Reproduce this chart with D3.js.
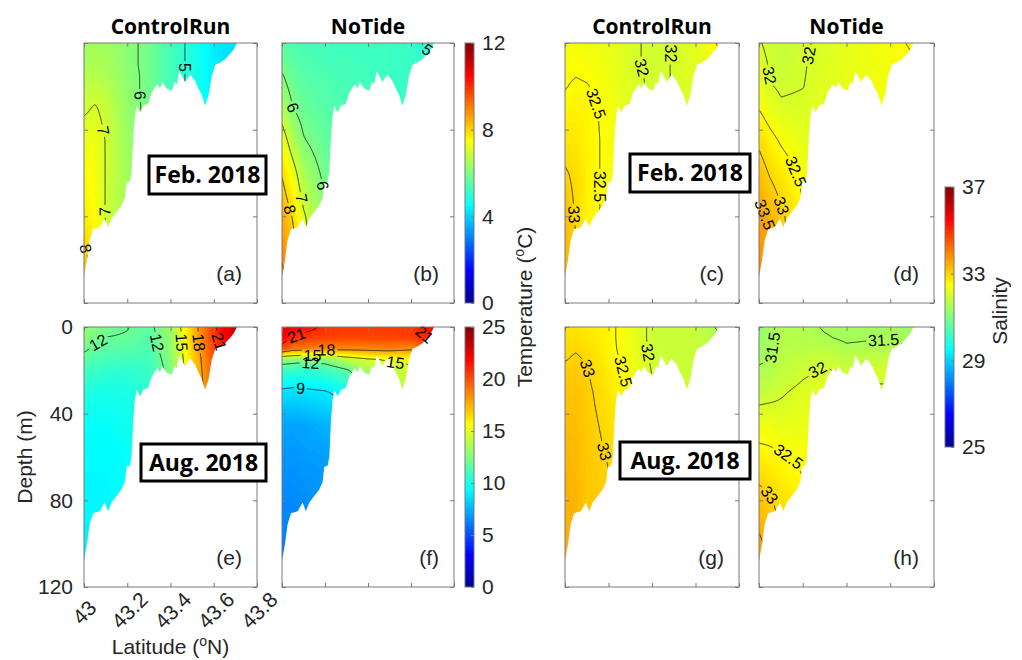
<!DOCTYPE html>
<html>
<head>
<meta charset="utf-8">
<script src="https://cdn.jsdelivr.net/npm/d3@7"></script>
<style>
  body { margin: 0; background: #fff; }
  svg { display: block; }
</style>
</head>
<body>
<svg id="chart" width="1022" height="660"></svg>
<script>
// ---- data ----
// field grid: rows are depths (m), columns are latitudes (deg N)
const gridLat = [43.0, 43.05, 43.1, 43.2, 43.3, 43.4, 43.5, 43.6, 43.7]
const gridDepth = [0, 5, 10, 15, 20, 30, 45, 60, 80, 110]

// bottom of the section (same for all panels)
const bottomLat = [43.000, 43.014, 43.026, 43.042, 43.073, 43.096, 43.111, 43.127, 43.150, 43.173,
  43.189, 43.197, 43.212, 43.220, 43.228, 43.235, 43.243, 43.259, 43.274, 43.297, 43.313, 43.328,
  43.340, 43.351, 43.362, 43.382, 43.406, 43.418, 43.429, 43.440, 43.452, 43.467, 43.480, 43.491,
  43.514, 43.529, 43.545, 43.560, 43.576, 43.591, 43.607, 43.630, 43.653, 43.676, 43.692, 43.707]
const bottomDepth = [108, 100, 91, 86, 85, 81, 85, 81, 78, 75,
  71.5, 64.5, 64, 60, 43, 34, 29, 32, 29, 28, 23, 20.5,
  19, 21, 18, 21, 22, 18, 19, 13, 15, 18, 16, 14.5,
  17.5, 21, 24, 29, 24, 15, 10, 9, 7.5, 5, 3, 0]

const latTicks = [43, 43.2, 43.4, 43.6, 43.8]
const latTickLabels = ['43', '43.2', '43.4', '43.6', '43.8']
const depthTicks = [0, 40, 80, 120]
const febTempTicks = [0, 4, 8, 12]
const augTempTicks = [0, 5, 10, 15, 20, 25]
const salinityTicks = [25, 29, 33, 37]

const febTempLevels = [4, 5, 6, 7, 8, 9, 10]
const augTempLevels = [3, 6, 9, 12, 15, 18, 21, 24]
const salinityLevels = [31, 31.5, 32, 32.5, 33, 33.5, 34, 34.5]

// (a) temperature, Feb 2018, ControlRun
const tempFebControl = [
  [6.4, 6.45, 6.4, 6.15, 5.85, 5.3, 4.85, 4.3, 4.1],
  [6.45, 6.5, 6.45, 6.15, 5.85, 5.3, 4.85, 4.3, 4.1],
  [6.5, 6.55, 6.5, 6.15, 5.85, 5.3, 4.85, 4.3, 4.1],
  [6.6, 6.65, 6.55, 6.2, 5.85, 5.3, 4.85, 4.3, 4.1],
  [6.7, 6.75, 6.65, 6.2, 5.85, 5.3, 4.85, 4.3, 4.1],
  [6.9, 7.05, 6.85, 6.25, 5.85, 5.3, 4.85, 4.3, 4.1],
  [7.3, 7.3, 6.98, 6.35, 5.9, 5.3, 4.85, 4.3, 4.1],
  [7.5, 7.4, 6.98, 6.4, 5.9, 5.3, 4.85, 4.3, 4.1],
  [7.75, 7.5, 6.97, 6.4, 5.9, 5.3, 4.85, 4.3, 4.1],
  [8.4, 7.8, 7.0, 6.4, 5.9, 5.3, 4.85, 4.3, 4.1]
]
// (b) temperature, Feb 2018, NoTide
const tempFebNoTide = [
  [5.6, 5.45, 5.35, 5.3, 5.25, 5.2, 5.2, 5.15, 4.85],
  [5.7, 5.5, 5.4, 5.3, 5.25, 5.2, 5.2, 5.15, 5.02],
  [5.85, 5.6, 5.45, 5.35, 5.3, 5.25, 5.2, 5.15, 5.1],
  [6.05, 5.7, 5.52, 5.4, 5.32, 5.25, 5.2, 5.15, 5.1],
  [6.2, 5.8, 5.6, 5.45, 5.35, 5.3, 5.2, 5.15, 5.1],
  [6.6, 6.0, 5.75, 5.5, 5.4, 5.3, 5.2, 5.15, 5.1],
  [7.4, 6.6, 6.05, 5.65, 5.45, 5.3, 5.2, 5.15, 5.1],
  [7.95, 7.3, 6.5, 5.85, 5.5, 5.3, 5.2, 5.15, 5.1],
  [8.5, 7.95, 7.1, 6.1, 5.6, 5.3, 5.2, 5.15, 5.1],
  [9.2, 8.6, 7.6, 6.3, 5.7, 5.3, 5.2, 5.15, 5.1]
]
// (c) salinity, Feb 2018, ControlRun
const salFebControl = [
  [32.35, 32.35, 32.3, 32.25, 32.05, 31.95, 32.01, 32.15, 32.52],
  [32.4, 32.4, 32.35, 32.3, 32.05, 31.95, 32.01, 32.15, 32.45],
  [32.42, 32.45, 32.4, 32.3, 32.05, 31.95, 32.01, 32.15, 32.4],
  [32.45, 32.49, 32.46, 32.32, 32.08, 31.95, 32.01, 32.15, 32.4],
  [32.48, 32.55, 32.52, 32.35, 32.1, 31.95, 32.01, 32.15, 32.4],
  [32.6, 32.65, 32.6, 32.4, 32.1, 31.95, 32.01, 32.15, 32.4],
  [32.8, 32.75, 32.65, 32.4, 32.1, 31.95, 32.01, 32.15, 32.4],
  [33.05, 32.9, 32.65, 32.4, 32.1, 31.95, 32.01, 32.15, 32.4],
  [33.3, 32.95, 32.65, 32.4, 32.1, 31.95, 32.01, 32.15, 32.4],
  [33.45, 33.1, 32.7, 32.4, 32.1, 31.95, 32.01, 32.15, 32.4]
]
// (d) salinity, Feb 2018, NoTide
const salFebNoTide = [
  [32.03, 31.9, 31.85, 31.95, 32.08, 32.2, 32.3, 32.38, 32.55],
  [32.1, 31.92, 31.86, 31.96, 32.1, 32.2, 32.3, 32.38, 32.49],
  [32.2, 31.95, 31.88, 31.97, 32.12, 32.22, 32.3, 32.38, 32.47],
  [32.25, 31.99, 31.91, 31.98, 32.13, 32.23, 32.3, 32.38, 32.47],
  [32.3, 32.03, 31.94, 31.99, 32.15, 32.25, 32.3, 32.38, 32.47],
  [32.48, 32.25, 32.06, 32.08, 32.2, 32.25, 32.3, 32.38, 32.47],
  [32.9, 32.65, 32.45, 32.2, 32.25, 32.25, 32.3, 32.38, 32.47],
  [33.25, 32.95, 32.75, 32.4, 32.3, 32.3, 32.3, 32.38, 32.47],
  [33.65, 33.4, 33.1, 32.55, 32.35, 32.3, 32.3, 32.38, 32.47],
  [33.95, 33.65, 33.3, 32.65, 32.4, 32.3, 32.3, 32.38, 32.47]
]
// (e) temperature, Aug 2018, ControlRun
const tempAugControl = [
  [13.0, 12.6, 12.3, 12.05, 11.6, 13.2, 17.0, 20.6, 23.5],
  [12.7, 12.3, 11.98, 11.9, 11.5, 13.0, 17.0, 20.5, 23.0],
  [12.2, 11.8, 11.6, 11.5, 11.3, 12.9, 16.8, 20.2, 22.5],
  [11.6, 11.3, 11.1, 11.0, 11.0, 12.7, 16.6, 20.0, 22.2],
  [11.0, 10.8, 10.6, 10.5, 10.8, 12.5, 16.5, 19.8, 22.0],
  [10.2, 10.0, 9.9, 10.0, 10.5, 12.3, 16.3, 19.5, 22.0],
  [9.6, 9.5, 9.5, 9.7, 10.3, 12.1, 16.0, 19.0, 22.0],
  [9.3, 9.3, 9.3, 9.5, 10.0, 11.5, 15.5, 18.5, 21.5],
  [9.2, 9.2, 9.2, 9.4, 9.8, 11.0, 15.0, 18.0, 21.2],
  [9.1, 9.1, 9.1, 9.3, 9.6, 10.5, 14.5, 17.5, 20.5]
]
// (f) temperature, Aug 2018, NoTide
const tempAugNoTide = [
  [22.5, 22.0, 21.6, 20.7, 20.5, 20.5, 20.5, 20.6, 21.8],
  [22.0, 20.9, 20.5, 20.3, 20.2, 20.2, 20.2, 20.4, 21.1],
  [20.2, 19.0, 18.8, 18.6, 18.5, 18.6, 18.7, 18.3, 20.0],
  [13.0, 12.8, 12.6, 12.8, 14.0, 14.8, 15.2, 15.5, 17.0],
  [10.8, 10.6, 10.5, 10.8, 11.8, 13.5, 14.2, 14.5, 15.5],
  [8.7, 8.6, 8.7, 8.9, 9.5, 12.1, 13.8, 14.0, 14.5],
  [7.2, 7.1, 7.2, 7.5, 8.0, 11.0, 13.5, 14.0, 14.5],
  [6.8, 6.8, 6.9, 7.0, 7.5, 10.0, 13.0, 13.5, 14.0],
  [6.5, 6.5, 6.6, 6.8, 7.2, 9.5, 12.5, 13.0, 13.5],
  [6.2, 6.3, 6.4, 6.6, 7.0, 9.0, 12.2, 12.5, 13.0]
]
// (g) salinity, Aug 2018, ControlRun
const salAugControl = [
  [32.8, 32.8, 32.75, 32.6, 32.3, 31.9, 31.85, 31.85, 31.45],
  [32.85, 32.85, 32.8, 32.6, 32.3, 31.9, 31.85, 31.85, 31.6],
  [32.92, 32.97, 32.9, 32.62, 32.3, 31.92, 31.85, 31.85, 31.7],
  [32.98, 33.05, 32.97, 32.65, 32.35, 31.95, 31.87, 31.85, 31.8],
  [33.1, 33.1, 33.02, 32.7, 32.4, 31.98, 31.9, 31.87, 31.8],
  [33.2, 33.2, 33.08, 32.8, 32.45, 32.05, 31.95, 31.9, 31.85],
  [33.3, 33.28, 33.12, 32.9, 32.55, 32.1, 31.97, 31.9, 31.85],
  [33.38, 33.33, 33.15, 32.98, 32.6, 32.15, 31.97, 31.9, 31.85],
  [33.44, 33.38, 33.15, 33.05, 32.65, 32.2, 31.97, 31.9, 31.85],
  [33.48, 33.42, 33.2, 33.1, 32.7, 32.25, 31.97, 31.9, 31.85]
]
// (h) salinity, Aug 2018, NoTide
const salAugNoTide = [
  [31.2, 31.42, 31.6, 31.6, 31.47, 31.4, 31.4, 31.42, 31.3],
  [31.25, 31.44, 31.62, 31.62, 31.53, 31.45, 31.47, 31.48, 31.4],
  [31.35, 31.46, 31.65, 31.68, 31.7, 31.55, 31.58, 31.6, 31.52],
  [31.45, 31.49, 31.7, 31.8, 31.9, 31.75, 31.8, 31.85, 31.7],
  [31.55, 31.6, 31.75, 31.92, 32.05, 31.9, 31.95, 31.95, 31.8],
  [31.8, 31.85, 31.95, 32.1, 32.2, 32.05, 32.03, 32.03, 31.9],
  [32.3, 32.3, 32.2, 32.25, 32.3, 32.2, 32.1, 32.1, 32.1],
  [32.65, 32.6, 32.55, 32.42, 32.4, 32.3, 32.2, 32.2, 32.2],
  [33.2, 33.05, 32.85, 32.6, 32.48, 32.4, 32.3, 32.3, 32.3],
  [33.8, 33.48, 33.1, 32.8, 32.6, 32.45, 32.4, 32.4, 32.4]
]

// contour label anchors: [level, latitude, depth]
const labelsA = [[5, 43.467, 11.5], [6, 43.267, 24], [7, 43.105, 40], [7, 43.11, 78], [8, 43.012, 95]]
const labelsB = [[5, 43.68, 4], [6, 43.05, 30], [6, 43.177, 66], [7, 43.107, 71.5], [8, 43.037, 77], [9, 43.005, 99]]
const labelsC = [[32, 43.335, 11.7], [32, 43.5, 5], [32.5, 43.14, 28], [32.5, 43.16, 66], [33, 43.032, 79]]
const labelsD = [[32, 43.04, 15], [32, 43.23, 6], [32.5, 43.155, 60], [33, 43.105, 75], [33.5, 43.027, 79]]
const labelsE = [[12, 43.066, 7.5], [12, 43.337, 7], [15, 43.457, 7], [18, 43.53, 7], [21, 43.614, 7]]
const labelsF = [[21, 43.082, 7.4], [15, 43.144, 13.5], [18, 43.206, 10.5], [12, 43.129, 19], [9, 43.088, 26], [15, 43.53, 14.3], [21, 43.664, 3.5]]
const labelsG = [[33, 43.138, 18], [33, 43.192, 57], [32.5, 43.253, 21], [32, 43.368, 12]]
const labelsH = [[31.5, 43.096, 9.7], [31.5, 43.57, 6.5], [32, 43.27, 20], [32.5, 43.15, 57], [33, 43.08, 75]]

// ---- layout ----
const W = 1022, H = 660
const cols = [[84, 257], [282, 454], [565, 739], [759, 934]]
const rows = [[43, 303], [327, 587]]
const pad = 4
const textColor = '#262626'
const axisColor = '#7a7a7a'
const sans = 'Liberation Sans, Arial, sans-serif'
const bold = 'Open Sans, Liberation Sans, sans-serif'

const svg = d3.select('#chart')
const defs = svg.append('defs')

// MATLAB jet
const jet = d3.scaleLinear()
  .domain([0, 0.125, 0.375, 0.625, 0.875, 1])
  .range(['#00008f', '#0000ff', '#00ffff', '#ffff00', '#ff0000', '#800000'])
  .clamp(true)
const lut = d3.range(256).map(i => d3.rgb(jet(i / 255)))

function sampler(field) {
  const nx = gridLat.length, ny = gridDepth.length
  return (lat, dep) => {
    const la = Math.max(gridLat[0], Math.min(gridLat[nx - 1], lat))
    const de = Math.max(gridDepth[0], Math.min(gridDepth[ny - 1], dep))
    const i = Math.min(d3.bisectRight(gridLat, la) - 1, nx - 2)
    const j = Math.min(d3.bisectRight(gridDepth, de) - 1, ny - 2)
    const tx = (la - gridLat[i]) / (gridLat[i + 1] - gridLat[i])
    const ty = (de - gridDepth[j]) / (gridDepth[j + 1] - gridDepth[j])
    const top = field[j][i] * (1 - tx) + field[j][i + 1] * tx
    const bot = field[j + 1][i] * (1 - tx) + field[j + 1][i + 1] * tx
    return top * (1 - ty) + bot * ty
  }
}

function bottomAt(lat) {
  const i = d3.bisectLeft(bottomLat, lat)
  if (i <= 0) return bottomDepth[0]
  if (i >= bottomLat.length) return -1
  const t = (lat - bottomLat[i - 1]) / (bottomLat[i] - bottomLat[i - 1])
  return bottomDepth[i - 1] + t * (bottomDepth[i] - bottomDepth[i - 1])
}

const panels = [
  { id: 'a', field: tempFebControl, col: 0, row: 0, range: [0, 12], levels: febTempLevels, labels: labelsA },
  { id: 'b', field: tempFebNoTide, col: 1, row: 0, range: [0, 12], levels: febTempLevels, labels: labelsB },
  { id: 'c', field: salFebControl, col: 2, row: 0, range: [25, 37], levels: salinityLevels, labels: labelsC },
  { id: 'd', field: salFebNoTide, col: 3, row: 0, range: [25, 37], levels: salinityLevels, labels: labelsD },
  { id: 'e', field: tempAugControl, col: 0, row: 1, range: [0, 25], levels: augTempLevels, labels: labelsE },
  { id: 'f', field: tempAugNoTide, col: 1, row: 1, range: [0, 25], levels: augTempLevels, labels: labelsF },
  { id: 'g', field: salAugControl, col: 2, row: 1, range: [25, 37], levels: salinityLevels, labels: labelsG },
  { id: 'h', field: salAugNoTide, col: 3, row: 1, range: [25, 37], levels: salinityLevels, labels: labelsH }
]

function drawPanel(p) {
  const [x0, x1] = cols[p.col]
  const [y0, y1] = rows[p.row]
  const x = d3.scaleLinear().domain([43, 43.8]).range([x0, x1])
  const y = d3.scaleLinear().domain([0, 120]).range([y0, y1])

  // sample the field on a pixel grid a little larger than the panel
  const gw = Math.round(x1 - x0) + 2 * pad
  const gh = Math.round(y1 - y0) + 2 * pad
  const ox = x0 - pad, oy = y0 - pad
  const sample = sampler(p.field)
  const values = new Float64Array(gw * gh)
  for (let j = 0; j < gh; j++) {
    const dep = y.invert(oy + j + 0.5)
    for (let i = 0; i < gw; i++) values[j * gw + i] = sample(x.invert(ox + i + 0.5), dep)
  }

  const canvas = document.createElement('canvas')
  canvas.width = gw
  canvas.height = gh
  const ctx = canvas.getContext('2d')
  const img = ctx.createImageData(gw, gh)
  const [lo, hi] = p.range
  values.forEach((v, k) => {
    const t = Math.max(0, Math.min(1, (v - lo) / (hi - lo)))
    const c = lut[Math.round(t * 255)]
    img.data[4 * k] = c.r
    img.data[4 * k + 1] = c.g
    img.data[4 * k + 2] = c.b
    img.data[4 * k + 3] = 255
  })
  ctx.putImageData(img, 0, 0)

  // water column mask
  const clipId = 'clip-' + p.id
  defs.append('clipPath').attr('id', clipId)
    .append('path')
    .attr('d', d3.area().x(d => x(d[0])).y0(y0).y1(d => y(d[1]))(d3.zip(bottomLat, bottomDepth)))

  const g = svg.append('g').attr('clip-path', `url(#${clipId})`)
  g.append('image')
    .attr('x', ox).attr('y', oy)
    .attr('width', gw).attr('height', gh)
    .attr('preserveAspectRatio', 'none')
    .attr('href', canvas.toDataURL())

  const contours = d3.contours().size([gw, gh]).thresholds(p.levels)(values)

  // knock-outs for the inline labels
  const maskId = 'mask-' + p.id
  const mask = defs.append('mask').attr('id', maskId)
    .attr('maskUnits', 'userSpaceOnUse')
    .attr('x', 0).attr('y', 0).attr('width', W).attr('height', H)
  mask.append('rect').attr('width', W).attr('height', H).attr('fill', 'white')

  g.append('g').attr('mask', `url(#${maskId})`)
    .append('g').attr('transform', `translate(${ox},${oy})`)
    .selectAll('path')
    .data(contours.filter(c => c.coordinates.length))
    .join('path')
    .attr('d', d3.geoPath())
    .attr('fill', 'none')
    .attr('stroke', '#111')
    .attr('stroke-width', 0.8)

  const visible = (px, py) => px > x0 + 1 && px < x1 && py > y0 + 1 &&
    y.invert(py) < bottomAt(x.invert(px)) - 1

  const labelLayer = svg.append('g')
  p.labels.forEach(([level, lat, dep]) => {
    const c = contours.find(c => Math.abs(c.value - level) < 1e-9)
    if (!c) return
    const ax = x(lat), ay = y(dep)
    let best = null
    c.coordinates.forEach(poly => poly.forEach(ring => ring.forEach((pt, k) => {
      const px = pt[0] + ox, py = pt[1] + oy
      if (!visible(px, py)) return
      const d = (px - ax) ** 2 + (py - ay) ** 2
      if (!best || d < best.d) best = { d, ring, k, px, py }
    })))
    if (!best || best.d > 900) return
    const n = best.ring.length
    const a = best.ring[(best.k - 4 + n) % n], b = best.ring[(best.k + 4) % n]
    let ang = Math.atan2(b[1] - a[1], b[0] - a[0]) * 180 / Math.PI
    if (ang > 90) ang -= 180
    if (ang <= -90) ang += 180
    const tr = `translate(${best.px},${best.py}) rotate(${ang})`
    const t = labelLayer.append('text')
      .attr('transform', tr)
      .attr('text-anchor', 'middle')
      .attr('dy', '0.35em')
      .attr('font-family', sans)
      .attr('font-size', 16)
      .attr('fill', '#000')
      .text(String(level))
    const len = t.node().getComputedTextLength() + 4
    mask.append('rect')
      .attr('transform', tr)
      .attr('x', -len / 2).attr('y', -7)
      .attr('width', len).attr('height', 14)
      .attr('fill', 'black')
  })

  // axes box with inward ticks
  const axes = svg.append('g').attr('color', axisColor)
  axes.append('rect')
    .attr('x', x0).attr('y', y0)
    .attr('width', x1 - x0).attr('height', y1 - y0)
    .attr('fill', 'none').attr('stroke', axisColor).attr('stroke-width', 1)
  const noText = () => ''
  axes.append('g').attr('transform', `translate(0,${y1})`)
    .call(d3.axisBottom(x).tickValues(latTicks).tickSize(-4).tickFormat(noText))
  axes.append('g').attr('transform', `translate(0,${y0})`)
    .call(d3.axisTop(x).tickValues(latTicks).tickSize(-4).tickFormat(noText))
  axes.append('g').attr('transform', `translate(${x0},0)`)
    .call(d3.axisLeft(y).tickValues(depthTicks).tickSize(-4).tickFormat(noText))
  axes.append('g').attr('transform', `translate(${x1},0)`)
    .call(d3.axisRight(y).tickValues(depthTicks).tickSize(-4).tickFormat(noText))
  axes.selectAll('.domain').remove()

  // panel letter
  svg.append('text')
    .attr('x', x1 - 15).attr('y', y1 - 22)
    .attr('text-anchor', 'end')
    .attr('font-family', sans).attr('font-size', 21)
    .attr('fill', textColor)
    .text(`(${p.id})`)

  // tick labels on the lower-left panel only
  if (p.col === 0 && p.row === 1) {
    axes.append('g').attr('transform', `translate(${x0},0)`)
      .call(d3.axisLeft(y).tickValues(depthTicks).tickSize(0).tickPadding(11))
      .call(s => s.select('.domain').remove())
      .call(s => s.selectAll('text')
        .attr('font-family', sans).attr('font-size', 21).attr('fill', textColor))
    latTicks.forEach((t, i) => {
      const label = latTickLabels[i].padEnd(4, '\u00a0')
      const ex = x(t) + 22, ey = y1 + 14
      svg.append('text')
        .attr('transform', `translate(${ex},${ey}) rotate(-45)`)
        .attr('text-anchor', 'end')
        .attr('font-family', sans).attr('font-size', 21)
        .attr('fill', textColor)
        .attr('xml:space', 'preserve')
        .text(label)
    })
  }
}

panels.forEach(drawPanel)

// ---- titles ----
const titles = ['ControlRun', 'NoTide', 'ControlRun', 'NoTide']
titles.forEach((t, i) => {
  svg.append('text')
    .attr('x', (cols[i][0] + cols[i][1]) / 2).attr('y', 34)
    .attr('text-anchor', 'middle')
    .attr('font-family', bold).attr('font-weight', 700).attr('font-size', 21)
    .attr('fill', '#000')
    .text(t)
})

// ---- month boxes ----
const monthBoxes = [
  { text: 'Feb. 2018', x: 149, y: 156, w: 117, h: 38 },
  { text: 'Feb. 2018', x: 630, y: 154, w: 120, h: 38 },
  { text: 'Aug. 2018', x: 141, y: 444, w: 125, h: 37 },
  { text: 'Aug. 2018', x: 620, y: 442, w: 130, h: 37 }
]
monthBoxes.forEach(b => {
  svg.append('rect')
    .attr('x', b.x).attr('y', b.y).attr('width', b.w).attr('height', b.h)
    .attr('fill', '#fff').attr('stroke', '#000').attr('stroke-width', 3)
  svg.append('text')
    .attr('x', b.x + b.w / 2).attr('y', b.y + b.h / 2)
    .attr('dy', '0.36em')
    .attr('text-anchor', 'middle')
    .attr('font-family', bold).attr('font-weight', 700).attr('font-size', 23)
    .attr('fill', '#000')
    .text(b.text)
})

// ---- colorbars ----
const grad = defs.append('linearGradient').attr('id', 'jet')
  .attr('x1', 0).attr('y1', 1).attr('x2', 0).attr('y2', 0)
grad.selectAll('stop').data(d3.range(0, 1.0001, 1 / 32)).join('stop')
  .attr('offset', d => d).attr('stop-color', d => jet(d))

function colorbar(x0, y0, y1, domain, ticks) {
  const w = 9
  const s = d3.scaleLinear().domain(domain).range([y1, y0])
  svg.append('rect')
    .attr('x', x0).attr('y', y0).attr('width', w).attr('height', y1 - y0)
    .attr('fill', 'url(#jet)').attr('stroke', axisColor).attr('stroke-width', 1)
  const ax = svg.append('g').attr('transform', `translate(${x0 + w},0)`).attr('color', axisColor)
    .call(d3.axisRight(s).tickValues(ticks).tickSize(-3).tickPadding(8))
  ax.select('.domain').remove()
  ax.selectAll('text')
    .attr('font-family', sans).attr('font-size', 21).attr('fill', textColor)
}
colorbar(465, rows[0][0], rows[0][1], [0, 12], febTempTicks)
colorbar(465, rows[1][0], rows[1][1], [0, 25], augTempTicks)
colorbar(945, 187, 447, [25, 37], salinityTicks)

// ---- axis titles ----
function degreeLabel(sel, before, after) {
  sel.append('tspan').text(before)
  sel.append('tspan').attr('dy', -8).attr('font-size', 14).text('o')
  sel.append('tspan').attr('dy', 8).text(after)
}
svg.append('text')
  .attr('transform', 'translate(532,307) rotate(-90)')
  .attr('text-anchor', 'middle')
  .attr('font-family', sans).attr('font-size', 21).attr('fill', textColor)
  .call(s => degreeLabel(s, 'Temperature (', 'C)'))
svg.append('text')
  .attr('transform', 'translate(1007,311) rotate(-90)')
  .attr('text-anchor', 'middle')
  .attr('font-family', sans).attr('font-size', 21).attr('fill', textColor)
  .text('Salinity')
svg.append('text')
  .attr('transform', `translate(32,${(rows[1][0] + rows[1][1]) / 2}) rotate(-90)`)
  .attr('text-anchor', 'middle')
  .attr('font-family', sans).attr('font-size', 21).attr('fill', textColor)
  .text('Depth (m)')
svg.append('text')
  .attr('x', (cols[0][0] + cols[0][1]) / 2).attr('y', 654)
  .attr('text-anchor', 'middle')
  .attr('font-family', sans).attr('font-size', 21).attr('fill', textColor)
  .call(s => degreeLabel(s, 'Latitude (', 'N)'))
</script>
</body>
</html>
